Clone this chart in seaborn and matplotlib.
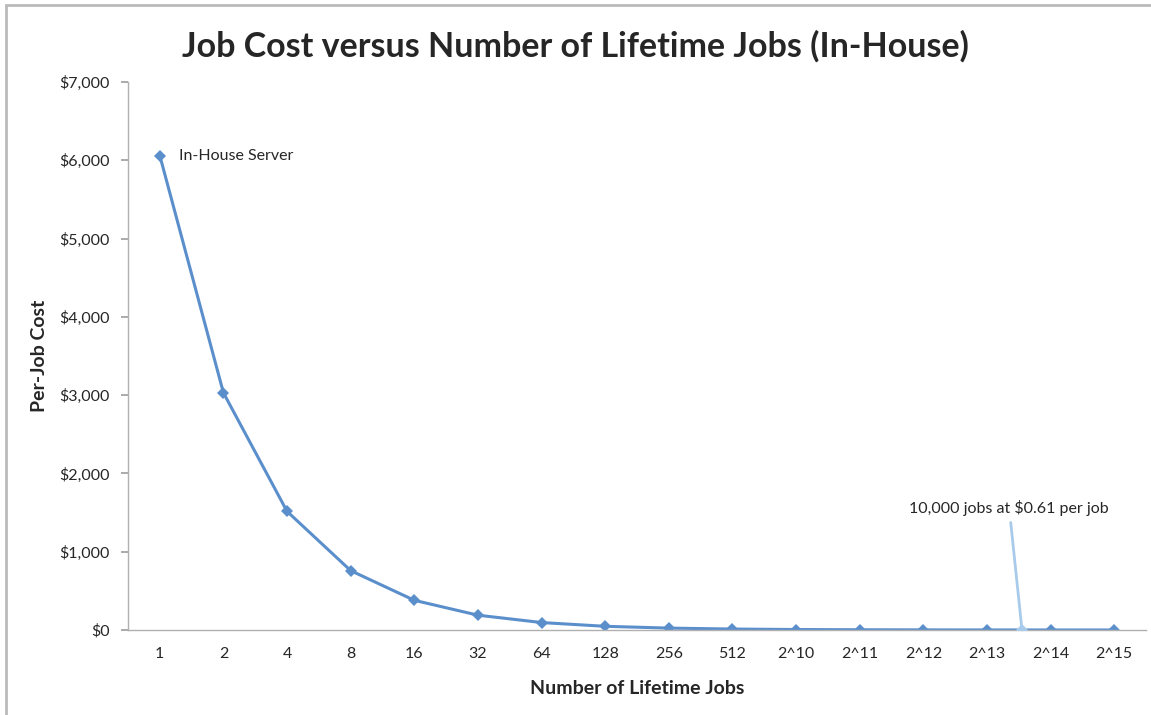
import matplotlib
matplotlib.use("Agg")
import matplotlib.pyplot as plt
import seaborn as sns
import pandas as pd
from matplotlib.patches import Rectangle
from matplotlib.ticker import FuncFormatter

categories = ["1", "2", "4", "8", "16", "32", "64", "128", "256", "512",
              "2^10", "2^11", "2^12", "2^13", "2^14", "2^15"]
cost = [6060, 3030, 1515, 758, 379, 189, 95, 47, 24, 12,
        6.0, 3.0, 1.5, 0.74, 0.37, 0.18]
y_ticks = [0, 1000, 2000, 3000, 4000, 5000, 6000, 7000]
highlight_pos = 13.55
highlight_val = 0.61

sns.set_theme(style="white")
plt.rcParams["font.family"] = ["Lato", "DejaVu Sans"]

df = pd.DataFrame({"jobs": categories, "cost": cost})
df["idx"] = range(len(categories))

fig = plt.figure(figsize=(11.51, 7.15), dpi=100)
ax = fig.add_axes([0.1112, 0.1189, 0.8845, 0.7664])

color = "#5B8FCC"
sns.lineplot(data=df, x="idx", y="cost", ax=ax, color=color, linewidth=2.2,
             marker="D", markersize=6, markeredgewidth=0, sort=False)

ax.set_xlim(-0.5, len(categories) - 0.5)
ax.set_ylim(0, 7000)
ax.set_xticks(range(len(categories)))
ax.set_xticklabels(categories, fontsize=11.5)
ax.set_yticks(y_ticks)
ax.yaxis.set_major_formatter(FuncFormatter(lambda v, p: "${:,.0f}".format(v)))
ax.tick_params(axis="y", labelsize=11.5, length=5, color="#A0A0A0", direction="out", left=True, pad=8)
ax.tick_params(axis="x", length=0, pad=12)

for s in ["top", "right"]:
    ax.spines[s].set_visible(False)
ax.spines["left"].set_color("#B0B0B0")
ax.spines["bottom"].set_color("#B0B0B0")
ax.spines["left"].set_linewidth(1)
ax.spines["bottom"].set_linewidth(1)

ax.set_xlabel("Number of Lifetime Jobs", fontsize=14, fontweight="bold", labelpad=14)
ax.set_ylabel("Per-Job Cost", fontsize=14, fontweight="bold", labelpad=8)

fig.suptitle("Job Cost versus Number of Lifetime Jobs (In-House)", fontsize=24.5,
             fontweight="bold", y=0.958)

ax.annotate("In-House Server", xy=(0, cost[0]), xytext=(14, 0),
            textcoords="offset points", fontsize=11.5, va="center", ha="left")

ax.plot([highlight_pos], [highlight_val], marker="D", markersize=6,
        color="#A9CBEB", markeredgewidth=0, zorder=5)
ax.annotate("10,000 jobs at $0.61 per job", xy=(highlight_pos, highlight_val),
            xytext=(13.35, 1450), fontsize=11.5, ha="center", va="bottom",
            arrowprops=dict(arrowstyle="-", color="#A9CBEB", lw=2, shrinkA=2, shrinkB=0))

fig.patches.append(Rectangle((0.005, -0.02), 1.2, 1.013, transform=fig.transFigure,
                             fill=False, edgecolor="#BBBBBB", linewidth=2))

fig.savefig("out.png", dpi=100)
